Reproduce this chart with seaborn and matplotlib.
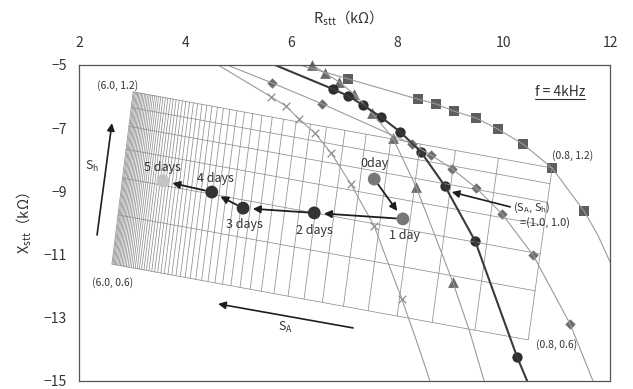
import matplotlib
matplotlib.use("Agg")
import matplotlib.pyplot as plt
import seaborn as sns
import pandas as pd

sns.set_theme(style="white")
plt.rcParams['font.family'] = ['Noto Sans CJK JP', 'DejaVu Sans']
plt.rcParams['mathtext.fontset'] = 'custom'
plt.rcParams['mathtext.rm'] = 'Noto Sans CJK JP'
plt.rcParams['mathtext.it'] = 'Noto Sans CJK JP'

# ---------------- data ----------------
# model mesh: area factor S_A and thickness factor S_h levels
SA_LEVELS = [0.8, 0.9, 1.0, 1.1, 1.2, 1.3, 1.4, 1.5, 1.6, 1.7, 1.8, 1.9,
             2.0, 2.1, 2.2, 2.3, 2.4, 2.5, 2.6, 2.7, 2.8, 2.9, 3.0, 3.1,
             3.2, 3.3, 3.4, 3.5, 3.6, 3.7, 3.8, 3.9, 4.0, 4.1, 4.2, 4.3,
             4.4, 4.5, 4.6, 4.7, 4.8, 4.9, 5.0, 5.1, 5.2, 5.3, 5.4, 5.5,
             5.6, 5.7, 5.8, 5.9, 6.0]
SH_LEVELS = [0.6, 0.7, 0.8, 0.9, 1.0, 1.1, 1.2]
# mesh corners (S_A, S_h) -> (R, X)
CORNER_SA = [6.0, 6.0, 0.8, 0.8]
CORNER_SH = [1.2, 0.6, 1.2, 0.6]
CORNER_R = [3.02, 2.62, 10.91, 10.46]
CORNER_X = [-5.85, -11.30, -8.26, -13.70]

# measured series (marker points)
CIRC_R = [6.78, 7.07, 7.35, 7.69, 8.05, 8.44, 8.89, 9.46, 10.25]
CIRC_X = [-5.76, -5.98, -6.27, -6.65, -7.12, -7.75, -8.83, -10.57, -14.24]
TRI_R = [6.39, 6.63, 6.90, 7.18, 7.52, 7.91, 8.35, 9.04]
TRI_X = [-5.00, -5.25, -5.54, -5.92, -6.52, -7.31, -8.86, -11.87]
SQ_R = [7.07, 8.38, 8.72, 9.06, 9.48, 9.89, 10.36, 10.91, 11.51]
SQ_X = [-5.44, -6.08, -6.23, -6.46, -6.68, -7.03, -7.50, -8.26, -9.62]
DIA_R = [5.64, 6.58, 8.27, 8.63, 9.03, 9.48, 9.97, 10.55, 11.25]
DIA_X = [-5.57, -6.23, -7.50, -7.85, -8.29, -8.89, -9.72, -11.01, -13.20]
CRS_R = [5.62, 5.90, 6.14, 6.44, 6.75, 7.12, 7.56, 8.08]
CRS_X = [-6.01, -6.30, -6.71, -7.15, -7.79, -8.77, -10.10, -12.41]

# curve continuations beyond the markers (to the plot edges)
CIRC_HEAD_R, CIRC_HEAD_X = [5.69], [-5.00]
CIRC_TAIL_R, CIRC_TAIL_X = [10.44], [-15.00]
TRI_HEAD_R, TRI_HEAD_X = [6.20], [-4.82]
TRI_TAIL_R, TRI_TAIL_X = [9.36, 9.63], [-13.45, -15.00]
SQ_HEAD_R, SQ_HEAD_X = [6.16], [-5.00]
SQ_TAIL_R, SQ_TAIL_X = [11.77, 12.00], [-10.38, -11.23]
DIA_HEAD_R, DIA_HEAD_X = [4.79], [-5.00]
DIA_TAIL_R, DIA_TAIL_X = [11.68], [-15.00]
CRS_HEAD_R, CRS_HEAD_X = [4.62], [-5.00]
CRS_TAIL_R, CRS_TAIL_X = [8.35, 8.61], [-13.70, -15.00]

# time course
DAY_LABELS = ['0day', '1 day', '2 days', '3 days', '4 days', '5 days']
DAY_R = [7.56, 8.10, 6.43, 5.09, 4.50, 3.58]
DAY_X = [-8.61, -9.87, -9.68, -9.53, -9.02, -8.67]
DAY_COLORS = ['#777777', '#777777', '#333333', '#333333', '#333333', '#c4c4c4']
DAY_LABEL_OFFSETS = [(0, 11), (1, -12), (0, -13), (1, -12), (3, 10), (0, 10)]

XTICKS = [2, 4, 6, 8, 10, 12]
YTICKS = [-15, -13, -11, -9, -7, -5]

# ---------------- figure ----------------
W, H = 633, 389
fig = plt.figure(figsize=(W / 100, H / 100), dpi=100)
ax = fig.add_axes([79 / W, 1 - 381 / H, (610 - 79) / W, (381 - 65) / H])
ax.set_xlim(2, 12)
ax.set_ylim(-15, -5)

TXT = '#333333'

# mesh via bilinear mapping in (1/S_A, 1/S_h) between the read corners
corner = {(sa, sh): (r, x) for sa, sh, r, x in zip(CORNER_SA, CORNER_SH, CORNER_R, CORNER_X)}
u0, u1 = 1 / max(SA_LEVELS), 1 / min(SA_LEVELS)
v0, v1 = 1 / max(SH_LEVELS), 1 / min(SH_LEVELS)
saL, saH = max(SA_LEVELS), min(SA_LEVELS)
shT, shB = max(SH_LEVELS), min(SH_LEVELS)


def node(sa, sh):
    s = (1 / sa - u0) / (u1 - u0)
    t = (1 / sh - v0) / (v1 - v0)
    out = []
    for k in range(2):
        p = ((1 - s) * (1 - t) * corner[(saL, shT)][k] + s * (1 - t) * corner[(saH, shT)][k]
             + (1 - s) * t * corner[(saL, shB)][k] + s * t * corner[(saH, shB)][k])
        out.append(p)
    return out


rows = []
for sh in SH_LEVELS:
    for i, sa in enumerate(SA_LEVELS):
        r, x = node(sa, sh)
        rows.append(dict(line=f'h{sh}', order=i, R=r, X=x))
for sa in SA_LEVELS:
    for i, sh in enumerate(SH_LEVELS):
        r, x = node(sa, sh)
        rows.append(dict(line=f'a{sa}', order=i, R=r, X=x))
mesh = pd.DataFrame(rows)
sns.lineplot(data=mesh, x='R', y='X', units='line', estimator=None, sort=False,
             color='#8f8f8f', lw=0.55, ax=ax, legend=False)


def curve(head_r, head_x, r, x, tail_r, tail_x, color, lw):
    cr = head_r + r + tail_r
    cx = head_x + x + tail_x
    sns.lineplot(x=cr, y=cx, sort=False, estimator=None, color=color, lw=lw, ax=ax)


curve(CRS_HEAD_R, CRS_HEAD_X, CRS_R, CRS_X, CRS_TAIL_R, CRS_TAIL_X, '#9a9a9a', 0.8)
curve(TRI_HEAD_R, TRI_HEAD_X, TRI_R, TRI_X, TRI_TAIL_R, TRI_TAIL_X, '#9a9a9a', 0.8)
curve(DIA_HEAD_R, DIA_HEAD_X, DIA_R, DIA_X, DIA_TAIL_R, DIA_TAIL_X, '#9a9a9a', 0.8)
curve(SQ_HEAD_R, SQ_HEAD_X, SQ_R, SQ_X, SQ_TAIL_R, SQ_TAIL_X, '#9a9a9a', 0.8)
curve(CIRC_HEAD_R, CIRC_HEAD_X, CIRC_R, CIRC_X, CIRC_TAIL_R, CIRC_TAIL_X, '#3a3a3a', 1.5)

sns.scatterplot(x=CRS_R, y=CRS_X, marker='x', s=30, color='#8a8a8a', linewidth=0.9, ax=ax)
sns.scatterplot(x=TRI_R, y=TRI_X, marker='^', s=60, color='#6a6a6a', linewidth=0, ax=ax, clip_on=False)
sns.scatterplot(x=DIA_R, y=DIA_X, marker='D', s=28, color='#6e6e6e', linewidth=0, ax=ax)
sns.scatterplot(x=SQ_R, y=SQ_X, marker='s', s=55, color='#5e5e5e', linewidth=0, ax=ax)
sns.scatterplot(x=CIRC_R, y=CIRC_X, marker='o', s=55, color='#2e2e2e', linewidth=0, ax=ax)

# time course points, arrows, labels
sns.scatterplot(x=DAY_R, y=DAY_X, hue=DAY_LABELS, palette=DAY_COLORS, marker='o', s=85,
                linewidth=0, ax=ax, legend=False, zorder=5)
for i in range(len(DAY_R) - 1):
    ax.annotate('', xy=(DAY_R[i + 1], DAY_X[i + 1]), xytext=(DAY_R[i], DAY_X[i]),
                arrowprops=dict(arrowstyle='-|>', color='#1e1e1e', lw=1.3,
                                mutation_scale=11, shrinkA=5, shrinkB=7), zorder=6)
for lab, r, x, off in zip(DAY_LABELS, DAY_R, DAY_X, DAY_LABEL_OFFSETS):
    ax.annotate(lab, (r, x), xytext=off, textcoords='offset points', ha='center',
                va='center', fontsize=9, color=TXT, zorder=7)

# corner labels
ax.text(2.72, -5.66, '(6.0, 1.2)', fontsize=7.5, color=TXT, ha='center', va='center')
ax.text(2.64, -11.87, '(6.0, 0.6)', fontsize=7.5, color=TXT, ha='center', va='center')
ax.text(11.30, -7.85, '(0.8, 1.2)', fontsize=7.5, color=TXT, ha='center', va='center')
ax.text(11.00, -13.86, '(0.8, 0.6)', fontsize=7.5, color=TXT, ha='center', va='center')
ax.text(10.17, -9.53, '(S$_\\mathregular{A}$, S$_\\mathregular{h}$)', fontsize=8, color=TXT,
        ha='left', va='center')
ax.text(10.30, -10.00, '=(1.0, 1.0)', fontsize=8, color=TXT, ha='left', va='center')
ax.annotate('', xy=(9.02, -9.02), xytext=(10.12, -9.49),
            arrowprops=dict(arrowstyle='-|>', color='#1e1e1e', lw=1.2, mutation_scale=11,
                            shrinkA=0, shrinkB=0))

# S_h and S_A arrows
ax.annotate('', xy=(2.62, -6.84), xytext=(2.34, -10.38),
            arrowprops=dict(arrowstyle='-|>', color='#1e1e1e', lw=1.2, mutation_scale=11,
                            shrinkA=0, shrinkB=0))
ax.text(2.24, -8.20, 'S$_\\mathregular{h}$', fontsize=9, color=TXT, ha='center', va='center')
ax.annotate('', xy=(4.62, -12.56), xytext=(7.16, -13.32),
            arrowprops=dict(arrowstyle='-|>', color='#1e1e1e', lw=1.2, mutation_scale=11,
                            shrinkA=0, shrinkB=0))
ax.text(5.88, -13.29, 'S$_\\mathregular{A}$', fontsize=9, color=TXT, ha='center', va='center')

# frequency label (underlined)
ft = ax.text(11.06, -5.85, 'f = 4kHz', fontsize=10, color=TXT, ha='center', va='center')
fig.canvas.draw()
bb = ft.get_window_extent().transformed(ax.transData.inverted())
ax.plot([bb.x0, bb.x1], [bb.y0, bb.y0], color=TXT, lw=0.8)

# axes styling
ax.xaxis.tick_top()
ax.xaxis.set_label_position('top')
ax.set_xticks(XTICKS)
ax.set_yticks(YTICKS)
ax.set_xticklabels([str(v) for v in XTICKS])
ax.set_yticklabels(['\u2212' + str(abs(v)) for v in YTICKS])
ax.tick_params(axis='x', length=0, pad=11, labelsize=10, labelcolor=TXT)
ax.tick_params(axis='y', length=0, pad=9, labelsize=10, labelcolor=TXT)
ax.set_xlabel('R$_\\mathregular{stt}$（kΩ）', fontsize=10.5, color=TXT, labelpad=9)
ax.set_ylabel('X$_\\mathregular{stt}$（kΩ）', fontsize=10.5, color=TXT, labelpad=7)
for sp in ax.spines.values():
    sp.set_color('#555555')
    sp.set_linewidth(0.9)

fig.savefig('out.png', dpi=100)
